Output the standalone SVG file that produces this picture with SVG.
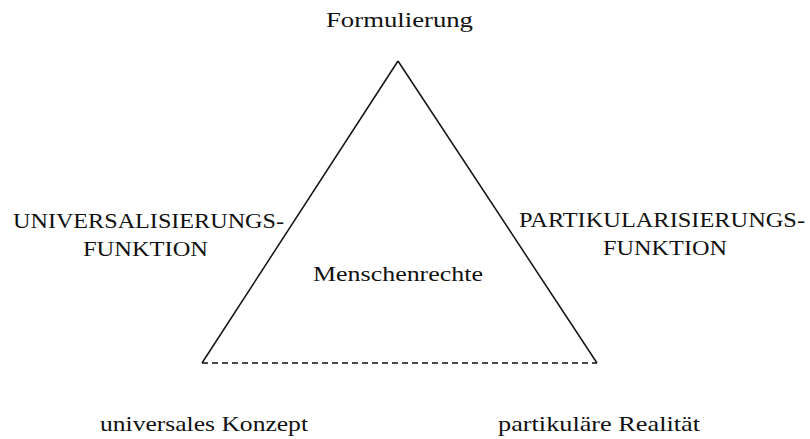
<svg xmlns="http://www.w3.org/2000/svg" width="810" height="439" viewBox="0 0 810 439">
<style>
text{font-family:"Liberation Serif","Times New Roman",serif;font-size:21px;fill:#111}
.edge{stroke:#111;stroke-width:1.5;fill:none}
.dash{stroke-dasharray:6 4}
</style>
<rect width="810" height="439" fill="#fff"/>
<g id="connectors">
<line class="edge" x1="202" y1="363" x2="398" y2="61"/>
<line class="edge" x1="398" y1="61" x2="597" y2="363"/>
<line class="edge dash" x1="202" y1="363" x2="597" y2="363"/>
</g>
<g id="formulierung"><text x="326" y="27" textLength="147" lengthAdjust="spacingAndGlyphs">Formulierung</text></g>
<g id="menschenrechte"><text x="313" y="281" textLength="170" lengthAdjust="spacingAndGlyphs">Menschenrechte</text></g>
<g id="universalisierung">
<text x="13" y="228" textLength="271" lengthAdjust="spacingAndGlyphs">UNIVERSALISIERUNGS-</text>
<text x="83" y="256" textLength="125" lengthAdjust="spacingAndGlyphs">FUNKTION</text>
</g>
<g id="partikularisierung">
<text x="519" y="227" textLength="286" lengthAdjust="spacingAndGlyphs">PARTIKULARISIERUNGS-</text>
<text x="603" y="255" textLength="124" lengthAdjust="spacingAndGlyphs">FUNKTION</text>
</g>
<g id="universales"><text x="100" y="431" textLength="208" lengthAdjust="spacingAndGlyphs">universales Konzept</text></g>
<g id="partikulaere"><text x="498" y="431" textLength="202" lengthAdjust="spacingAndGlyphs">partikuläre Realität</text></g>
</svg>
